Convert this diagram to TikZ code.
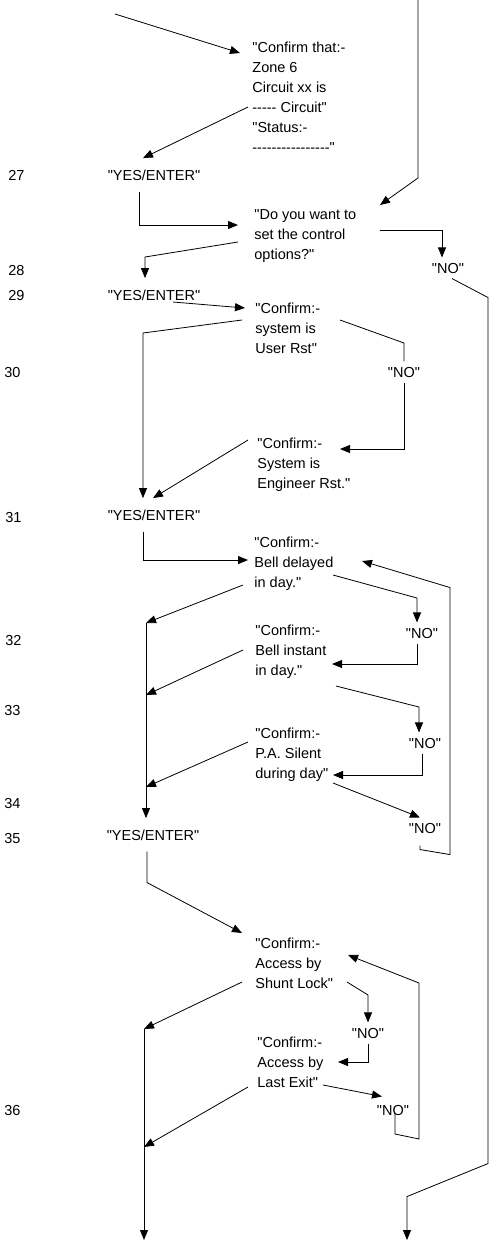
\documentclass[tikz,border=0pt]{standalone}
\usepackage{fontspec}
\setmainfont{Liberation Sans}[Ligatures=TeXOff]
\usetikzlibrary{arrows.meta}
\newcommand{\chartfont}{\fontsize{14.5}{20}\selectfont}
\tikzset{
  box/.style={align=left,anchor=north west,inner sep=0pt,font=\chartfont},
  ans/.style={anchor=base,inner xsep=0pt,font=\chartfont},
  yes/.style={ans,inner ysep=11pt},
  no/.style={ans,inner ysep=5pt},
  num/.style={anchor=base west,inner sep=0pt,font=\chartfont},
  arr/.style={-{Triangle[length=10pt,width=8pt]}}
}
\begin{document}
\begin{tikzpicture}[x=1pt,y=-1pt,line width=0.8pt]
\useasboundingbox (0,0) rectangle (489,1243);
% prompts
\node[box] (conf) at (252,41.5) {"Confirm that:-\\Zone 6\\Circuit xx is\\----- Circuit"\\"Status:-\\----------------"};
\node[box] (ctrl) at (254,209.5) {"Do you want to\\set the control\\options?"};
\node[box] (usr) at (255,302.5) {"Confirm:-\\system is\\User Rst"};
\node[box] (eng) at (257,437.5) {"Confirm:-\\System is\\Engineer Rst."};
\node[box] (bdel) at (254,536.5) {"Confirm:-\\Bell delayed\\in day."};
\node[box] (binst) at (255,624.5) {"Confirm:-\\Bell instant\\in day."};
\node[box] (pasil) at (255,727.5) {"Confirm:-\\P.A. Silent\\during day"};
\node[box] (shunt) at (255,937.5) {"Confirm:-\\Access by\\Shunt Lock"};
\node[box] (lexit) at (257,1036.5) {"Confirm:-\\Access by\\Last Exit"};
% answers
\node[yes] (yes27) at (154,180) {"YES/ENTER"};
\node[yes] (yes29) at (154,300) {"YES/ENTER"};
\node[yes] (yes31) at (154,520) {"YES/ENTER"};
\node[yes] (yes35) at (153,840) {"YES/ENTER"};
\node[no] (no28) at (448,273) {"NO"};
\node[no] (no30) at (404,377) {"NO"};
\node[no] (no31) at (422,638) {"NO"};
\node[no] (no32) at (425,748) {"NO"};
\node[no] (no33) at (425,833) {"NO"};
\node[no] (no34) at (368,1038) {"NO"};
\node[no] (no35) at (393,1115) {"NO"};
% step numbers
\node[num] (n27) at (8,180) {27};
\node[num] (n28) at (8,275) {28};
\node[num] (n29) at (8,300) {29};
\node[num] (n30) at (4,377) {30};
\node[num] (n31) at (5,522) {31};
\node[num] (n32) at (5,645) {32};
\node[num] (n33) at (4,715) {33};
\node[num] (n34) at (4,808) {34};
\node[num] (n35) at (4,843) {35};
\node[num] (n36) at (4,1115) {36};
% free ends
\coordinate (from1) at (115,14);
\coordinate (from2) at (418,0);
\coordinate (to1) at (144,1240);
\coordinate (to2) at (407,1240);
\coordinate (bus1) at (146,623);
\coordinate (bus2) at (144,1029);
% connectors
\draw[arr] (from1) -- ([shift={(-12,11.5)}]conf.north west);
\draw[arr] (from2) -- ++(0,178) -- ([shift={(126,-4.5)}]ctrl.north west);
\draw[arr] ([shift={(-4,65.5)}]conf.north west) -- ([xshift=-11pt]yes27.north);
\draw[arr] ([xshift=-15pt]yes27.south) |- ([shift={(-16,15.5)}]ctrl.north west);
\draw[arr] ([shift={(-16,32.5)}]ctrl.north west) -- ++(-93,15) -- ([xshift=-9pt]yes29.north);
\draw[arr] ([shift={(126,20.5)}]ctrl.north west) -| ([xshift=-6pt]no28.north);
\draw[arr] ([xshift=4pt]no28.south) -- ++(36,19) -- ++(0,866) -- ++(-81,33) -- (to2);
\draw[arr] ([shift={(19,2)}]yes29.base) -- ([shift={(-10,5.5)}]usr.north west);
\draw[arr] ([shift={(-13,17.5)}]usr.north west) -- ++(-99,13) -- ([xshift=-11pt]yes31.north);
\draw ([shift={(85,17.5)}]usr.north west) -- ++(64,23) -- (no30.north);
\draw[arr] (no30.south) |- ([shift={(83,11.5)}]eng.north west);
\draw[arr] ([shift={(-9,2.5)}]eng.north west) -- ([xshift=-1pt]yes31.north);
\draw[arr] ([xshift=-11pt]yes31.south) |- ([shift={(-6,23.5)}]bdel.north west);
\draw[arr] ([shift={(79,38.5)}]bdel.north west) -- ++(84,23) -- ([xshift=-5pt]no31.north);
\draw[arr] ([xshift=-5pt]no31.south) |- ([shift={(77,39.5)}]binst.north west);
\draw[arr] ([shift={(-11,48.5)}]bdel.north west) -- (bus1);
\draw[arr] (bus1) -- (bus1 |- yes35.north);
\draw[arr] ([shift={(-12,25.5)}]binst.north west) -- ++(-97,45);
\draw[arr] ([shift={(81,61.5)}]binst.north west) -- ++(83,21) -- ([xshift=-6pt]no32.north);
\draw[arr] ([xshift=-3pt]no32.south) |- ([shift={(78,47.5)}]pasil.north west);
\draw[arr] ([shift={(-7,14.5)}]pasil.north west) -- ++(-102,45);
\draw[arr] ([shift={(78,55.5)}]pasil.north west) -- ([xshift=-5pt]no33.north);
\draw[arr] ([shift={(-5,7)}]no33.south) -- ++(0,4) -- ++(30,5) -- ++(0,-267) -- ([shift={(108,24.5)}]bdel.north west);
\draw[arr] ([xshift=-6pt]yes35.south) -- ++(0,31) -- ([shift={(-13,-4.5)}]shunt.north west);
\draw[arr] ([shift={(-13,44.5)}]shunt.north west) -- (bus2);
\draw[arr] (bus2) -- (to1);
\draw[arr] ([shift={(92,44.5)}]shunt.north west) -- ++(21,13) -- (no34.north);
\draw[arr] (no34.south) |- ([shift={(81,25.5)}]lexit.north west);
\draw[arr] ([shift={(66,48.5)}]lexit.north west) -- ([shift={(-11,-3)}]no35.north);
\draw[arr] ([shift={(-9,50.5)}]lexit.north west) -- ++(-104,60);
\draw[arr] ([shift={(2,-2)}]no35.base) -- ++(0,21) -- ++(24,5) -- ++(0,-156) -- ([shift={(93,17.5)}]shunt.north west);
\end{tikzpicture}
\end{document}
